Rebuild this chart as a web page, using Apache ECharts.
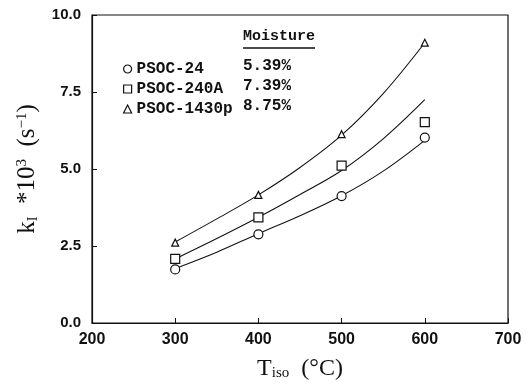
<!DOCTYPE html>
<html><head><meta charset="utf-8">
<script src="https://cdn.jsdelivr.net/npm/echarts@6/dist/echarts.min.js"></script>
<style>html,body{margin:0;padding:0;background:#fff}#c{width:529px;height:387px}</style>
</head><body><div id="c"></div>
<script>
var temps = [300, 400, 500, 600];
var names = ['PSOC-24', 'PSOC-240A', 'PSOC-1430p'];
var moisture = ['5.39%', '7.39%', '8.75%'];
var psoc24 = [1.74, 2.88, 4.12, 6.02];
var psoc240A = [2.08, 3.43, 5.11, 6.52];
var psoc1430p = [2.61, 4.16, 6.13, 9.10];
var fitTemps = [300, 350, 400, 450, 500, 550, 600];
var fit24 = [1.77, 2.30, 2.90, 3.48, 4.13, 4.93, 5.93];
var fit240A = [2.08, 2.74, 3.43, 4.17, 4.95, 5.98, 7.25];
var fit1430p = [2.63, 3.38, 4.16, 5.05, 6.10, 7.45, 9.10];
var xTicks = [200, 300, 400, 500, 600, 700];
var yTicks = [0, 2.5, 5, 7.5, 10];

var symbols = ['circle', 'rect', 'triangle'];
var sizes = [9, 9, 7];
var markData = [psoc24, psoc240A, psoc1430p];
var fitData = [fit24, fit240A, fit1430p];

function pairs(xs, ys) { return xs.map(function (x, i) { return [x, ys[i]]; }); }

var series = [];
fitData.forEach(function (f, k) {
  series.push({ type: 'line', name: 'fit' + k, data: pairs(fitTemps, f), smooth: 0.35,
    showSymbol: false, symbol: 'none', silent: true,
    lineStyle: { color: '#111', width: 1.1 }, z: 2 });
});
markData.forEach(function (m, k) {
  series.push({ type: 'scatter', name: names[k], data: pairs(temps, m),
    symbol: symbols[k], symbolSize: sizes[k],
    itemStyle: { color: '#fff', borderColor: '#111', borderWidth: 1.2, opacity: 1 }, z: 3 });
});

var graphics = [
  { type: 'text', left: 243, top: 29, style: { text: 'Moisture', font: 'bold 15px "Liberation Mono"', fill: '#111' } },
  { type: 'line', shape: { x1: 243, y1: 48, x2: 315, y2: 48 }, style: { stroke: '#111', lineWidth: 1.5 } }
];
moisture.forEach(function (m, k) {
  graphics.push({ type: 'text', left: 243, top: [58, 78, 98][k],
    style: { text: m, font: 'bold 16px "Liberation Mono"', fill: '#111' } });
});

var chart = echarts.init(document.getElementById('c'));
chart.setOption({
  animation: false,
  backgroundColor: '#fff',
  grid: { left: 92, right: 21, top: 15, bottom: 64, show: true, borderColor: '#111', borderWidth: 1.2 },
  legend: {
    data: names.map(function (n, k) { return { name: n, icon: ['circle', 'rect', 'triangle'][k] }; }),
    orient: 'vertical', left: 118, top: 56, itemWidth: 8, itemHeight: 8, itemGap: 4,
    textStyle: { fontFamily: 'Liberation Mono', fontWeight: 'bold', fontSize: 16, color: '#111', lineHeight: 16 },
    itemStyle: { color: '#fff', borderColor: '#111', borderWidth: 1.2 }
  },
  graphic: graphics,
  xAxis: {
    type: 'value', min: xTicks[0], max: xTicks[xTicks.length - 1], interval: 100,
    axisLine: { lineStyle: { color: '#111', width: 1.2 } },
    axisTick: { inside: true, length: 5, lineStyle: { color: '#111' } },
    axisLabel: { color: '#111', fontFamily: 'Liberation Sans', fontWeight: 'bold', fontSize: 16, margin: 9 },
    splitLine: { show: false },
    name: '{n|T}{sub|iso}{n|  (°C)}', nameLocation: 'middle', nameGap: 33,
    nameTextStyle: { rich: {
      n: { fontFamily: 'Liberation Serif', fontSize: 24, color: '#111' },
      sub: { fontFamily: 'Liberation Serif', fontSize: 15, color: '#111', verticalAlign: 'bottom', padding: [10, 0, 0, 0] }
    } }
  },
  yAxis: {
    type: 'value', min: 0, max: 10, interval: 2.5,
    axisLine: { lineStyle: { color: '#111', width: 1.2 } },
    axisTick: { inside: true, length: 5, lineStyle: { color: '#111' } },
    axisLabel: { color: '#111', fontFamily: 'Liberation Sans', fontWeight: 'bold', fontSize: 15, margin: 11,
      formatter: function (v) { return v.toFixed(1); } },
    splitLine: { show: false },
    name: '{n|k}{sub|I}{n|  *10}{sup|3}{n|  (s}{sup|−1}{n|)}', nameLocation: 'middle', nameGap: 52,
    nameTextStyle: { rich: {
      n: { fontFamily: 'Liberation Serif', fontSize: 25, color: '#111' },
      sub: { fontFamily: 'Liberation Serif', fontSize: 14, color: '#111', verticalAlign: 'bottom', padding: [10, 0, 0, 0] },
      sup: { fontFamily: 'Liberation Serif', fontSize: 15, color: '#111', verticalAlign: 'top', padding: [0, 0, 10, 0] }
    } }
  },
  series: series
});
</script></body></html>
